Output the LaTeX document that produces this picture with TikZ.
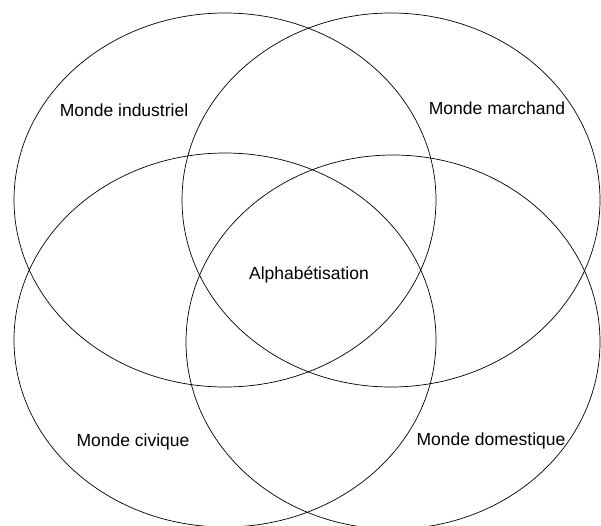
\documentclass[tikz,border=0pt]{standalone}
\usepackage{fontspec}
\setmainfont{Liberation Sans}
\begin{document}
\begin{tikzpicture}[x=1pt,y=-1pt]

\tikzstyle{monde}=[draw, line width=0.7pt, x radius=211pt, y radius=187pt]
\tikzstyle{etiquette}=[font=\fontsize{17.5}{21}\selectfont, inner sep=0pt]

\useasboundingbox (0,0) rectangle (601,525);

\draw[monde] (225,200) ellipse [];
\draw[monde] (391,200) ellipse [x radius=209pt];
\draw[monde] (225,340) ellipse [];
\draw[monde] (393,342) ellipse [x radius=207pt];

\node[etiquette] (industriel) at (124,110) {Monde industriel};
\node[etiquette] (marchand) at (497,108) {Monde marchand};
\node[etiquette] (civique) at (133,442) {Monde civique};
\node[etiquette] (domestique) at (491,441) {Monde domestique};
\node[etiquette] (alpha) at (309,275) {Alphabétisation};
\end{tikzpicture}
\end{document}
